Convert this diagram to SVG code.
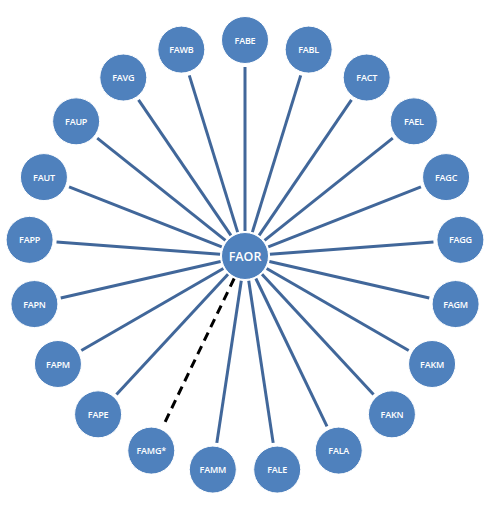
<svg xmlns="http://www.w3.org/2000/svg" width="489" height="510" viewBox="0 0 489 510">
<style>
.n{fill:#4F81BD;stroke:#FFFFFF;stroke-width:1}
.t{fill:#FFFFFF;font-family:"Open Sans","Liberation Sans",sans-serif;font-size:9px;font-weight:600;letter-spacing:-0.2px;text-anchor:middle;dominant-baseline:central}
.c{font-size:12.5px;letter-spacing:0}
.l{stroke:#41679A;stroke-width:3;fill:none}
.d{stroke:#000000;stroke-width:3;stroke-dasharray:9,6;fill:none}
</style>
<rect width="489" height="510" fill="#FFFFFF"/>
<g id="connectors">
<line class="l" x1="245" y1="231" x2="245" y2="67"/>
<line class="l" x1="252.37" y1="232.11" x2="300.71" y2="75.40"/>
<line class="l" x1="259.08" y1="235.34" x2="351.47" y2="99.84"/>
<line class="l" x1="264.55" y1="240.41" x2="392.77" y2="138.16"/>
<line class="l" x1="268.27" y1="246.87" x2="420.93" y2="186.95"/>
<line class="l" x1="269.93" y1="254.13" x2="433.47" y2="241.88"/>
<line class="l" x1="269.37" y1="261.56" x2="429.26" y2="298.06"/>
<line class="l" x1="266.65" y1="268.5" x2="408.68" y2="350.5"/>
<line class="l" x1="262.00" y1="274.33" x2="373.55" y2="394.55"/>
<line class="l" x1="255.85" y1="278.52" x2="327.00" y2="426.28"/>
<line class="l" x1="248.73" y1="280.72" x2="273.17" y2="442.89"/>
<line class="l" x1="241.27" y1="280.72" x2="216.83" y2="442.89"/>
<line class="d" x1="234.15" y1="278.52" x2="163.00" y2="426.28"/>
<line class="l" x1="228.00" y1="274.33" x2="116.45" y2="394.55"/>
<line class="l" x1="223.35" y1="268.5" x2="81.32" y2="350.5"/>
<line class="l" x1="220.63" y1="261.56" x2="60.74" y2="298.06"/>
<line class="l" x1="220.07" y1="254.13" x2="56.53" y2="241.88"/>
<line class="l" x1="221.73" y1="246.87" x2="69.07" y2="186.95"/>
<line class="l" x1="225.45" y1="240.41" x2="97.23" y2="138.16"/>
<line class="l" x1="230.92" y1="235.34" x2="138.53" y2="99.84"/>
<line class="l" x1="237.63" y1="232.11" x2="189.29" y2="75.40"/>
</g>
<g id="FAOR"><circle class="n" cx="245" cy="256" r="23.5"/><text class="t c" x="245" y="256">FAOR</text></g>
<g id="FABE"><circle class="n" cx="245" cy="40" r="23.5"/><text class="t" x="245" y="40">FABE</text></g>
<g id="FABL"><circle class="n" cx="308.67" cy="49.6" r="23.5"/><text class="t" x="308.67" y="49.6">FABL</text></g>
<g id="FACT"><circle class="n" cx="366.68" cy="77.53" r="23.5"/><text class="t" x="366.68" y="77.53">FACT</text></g>
<g id="FAEL"><circle class="n" cx="413.88" cy="121.33" r="23.5"/><text class="t" x="413.88" y="121.33">FAEL</text></g>
<g id="FAGC"><circle class="n" cx="446.07" cy="177.09" r="23.5"/><text class="t" x="446.07" y="177.09">FAGC</text></g>
<g id="FAGG"><circle class="n" cx="460.4" cy="239.86" r="23.5"/><text class="t" x="460.4" y="239.86">FAGG</text></g>
<g id="FAGM"><circle class="n" cx="455.59" cy="304.06" r="23.5"/><text class="t" x="455.59" y="304.06">FAGM</text></g>
<g id="FAKM"><circle class="n" cx="432.06" cy="364" r="23.5"/><text class="t" x="432.06" y="364">FAKM</text></g>
<g id="FAKN"><circle class="n" cx="391.92" cy="414.34" r="23.5"/><text class="t" x="391.92" y="414.34">FAKN</text></g>
<g id="FALA"><circle class="n" cx="338.72" cy="450.61" r="23.5"/><text class="t" x="338.72" y="450.61">FALA</text></g>
<g id="FALE"><circle class="n" cx="277.19" cy="469.59" r="23.5"/><text class="t" x="277.19" y="469.59">FALE</text></g>
<g id="FAMM"><circle class="n" cx="212.81" cy="469.59" r="23.5"/><text class="t" x="212.81" y="469.59">FAMM</text></g>
<g id="FAMG"><circle class="n" cx="151.28" cy="450.61" r="23.5"/><text class="t" x="151.28" y="450.61">FAMG*</text></g>
<g id="FAPE"><circle class="n" cx="98.08" cy="414.34" r="23.5"/><text class="t" x="98.08" y="414.34">FAPE</text></g>
<g id="FAPM"><circle class="n" cx="57.94" cy="364" r="23.5"/><text class="t" x="57.94" y="364">FAPM</text></g>
<g id="FAPN"><circle class="n" cx="34.41" cy="304.06" r="23.5"/><text class="t" x="34.41" y="304.06">FAPN</text></g>
<g id="FAPP"><circle class="n" cx="29.6" cy="239.86" r="23.5"/><text class="t" x="29.6" y="239.86">FAPP</text></g>
<g id="FAUT"><circle class="n" cx="43.93" cy="177.09" r="23.5"/><text class="t" x="43.93" y="177.09">FAUT</text></g>
<g id="FAUP"><circle class="n" cx="76.12" cy="121.33" r="23.5"/><text class="t" x="76.12" y="121.33">FAUP</text></g>
<g id="FAVG"><circle class="n" cx="123.32" cy="77.53" r="23.5"/><text class="t" x="123.32" y="77.53">FAVG</text></g>
<g id="FAWB"><circle class="n" cx="181.33" cy="49.6" r="23.5"/><text class="t" x="181.33" y="49.6">FAWB</text></g>
</svg>
